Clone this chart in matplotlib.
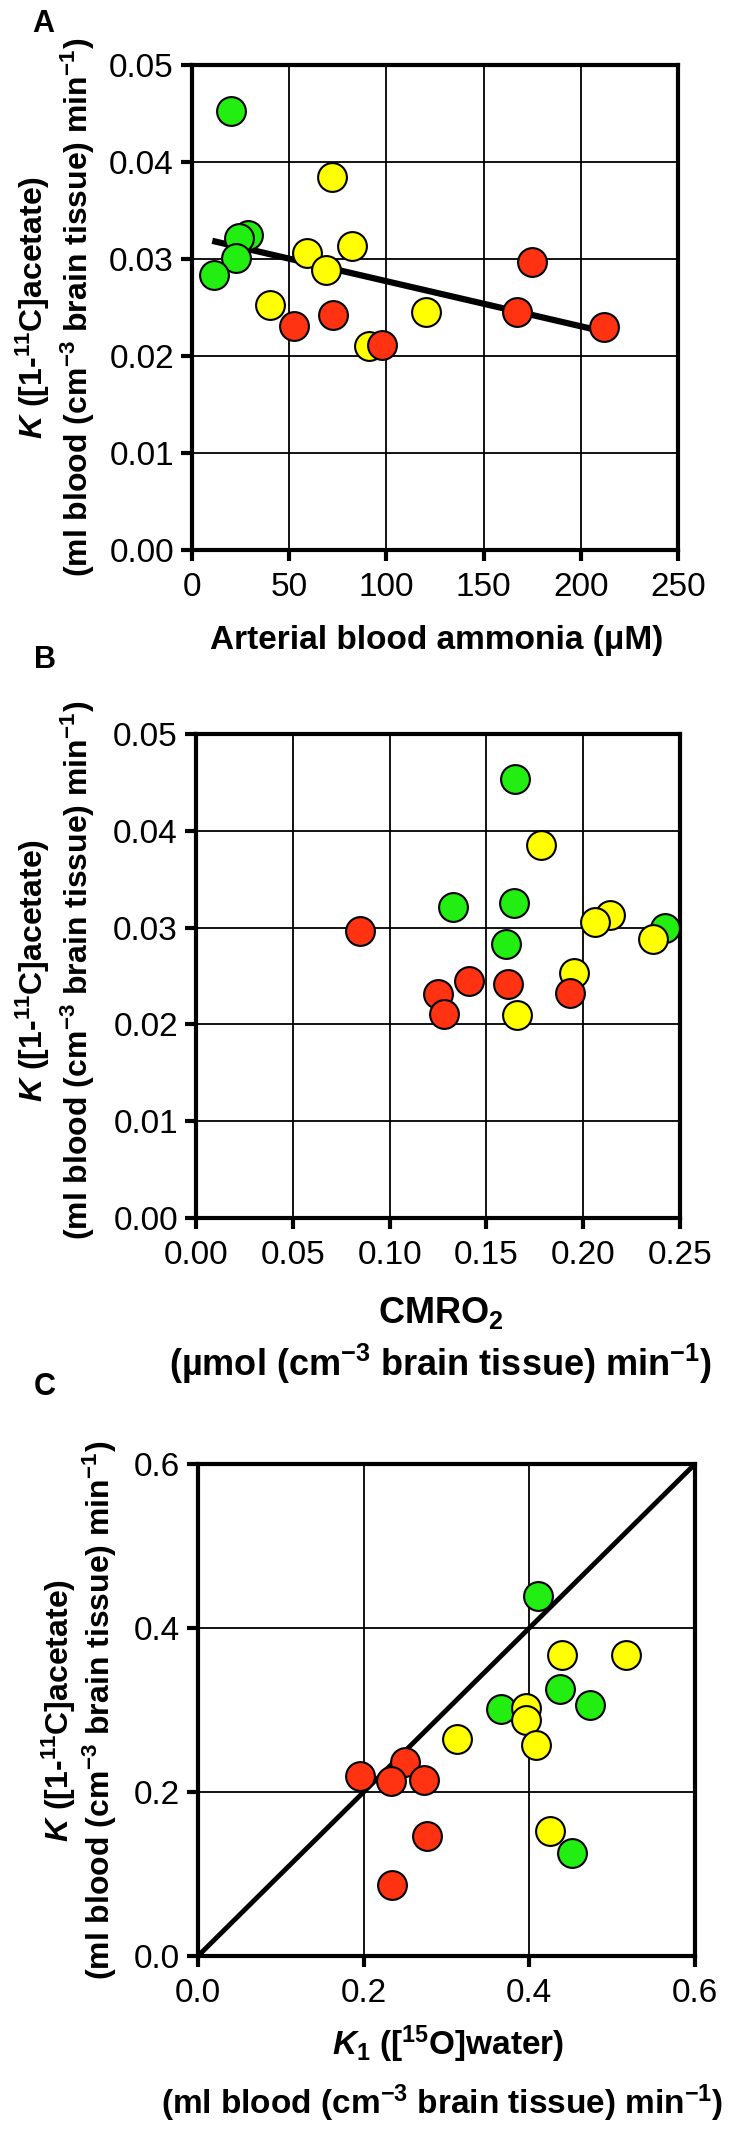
import numpy as np
import matplotlib
matplotlib.use('Agg')
import matplotlib.pyplot as plt

plt.rcParams['font.family'] = ['Liberation Sans', 'DejaVu Sans']
plt.rcParams['mathtext.fontset'] = 'custom'
plt.rcParams['mathtext.rm'] = 'Liberation Sans:bold'
plt.rcParams['mathtext.bf'] = 'Liberation Sans:bold'
plt.rcParams['mathtext.it'] = 'Liberation Sans:bold:italic'

GREEN = '#22ee11'
YELLOW = '#ffff00'
RED = '#ff3311'

# panel A: arterial ammonia vs K
a_green_x = [20, 28.8, 24, 22.4, 11.5]
a_green_y = [0.0453, 0.0325, 0.0322, 0.0301, 0.0284]
a_yellow_x = [71.9, 82.2, 58.9, 69, 40.1, 120.2, 90.9]
a_yellow_y = [0.0385, 0.0313, 0.0306, 0.0289, 0.0253, 0.0245, 0.0210]
a_red_x = [175, 72.4, 52.4, 97.8, 167.3, 212]
a_red_y = [0.0297, 0.0242, 0.0231, 0.0211, 0.0245, 0.0230]
a_fit_x = [12, 210]
a_fit_y = [0.0318, 0.0226]

# panel B: CMRO2 vs K
b_green_x = [0.165, 0.133, 0.164, 0.160, 0.2425]
b_green_y = [0.0453, 0.0321, 0.0325, 0.0283, 0.0300]
b_yellow_x = [0.178, 0.214, 0.206, 0.236, 0.195, 0.166]
b_yellow_y = [0.0385, 0.0313, 0.0306, 0.0288, 0.0253, 0.0210]
b_red_x = [0.0846, 0.141, 0.125, 0.128, 0.161, 0.193]
b_red_y = [0.0296, 0.0245, 0.0231, 0.0211, 0.0242, 0.0232]

# panel C: K1 water vs K acetate
c_green_x = [0.410, 0.366, 0.437, 0.473, 0.452]
c_green_y = [0.439, 0.301, 0.326, 0.306, 0.126]
c_yellow_x = [0.440, 0.517, 0.396, 0.396, 0.408, 0.313, 0.425]
c_yellow_y = [0.367, 0.367, 0.303, 0.288, 0.257, 0.265, 0.152]
c_red_x = [0.250, 0.195, 0.233, 0.273, 0.276, 0.234]
c_red_y = [0.236, 0.219, 0.214, 0.215, 0.146, 0.087]
c_line = [0.0, 0.6]

W, H = 729, 2130
fig = plt.figure(figsize=(W / 100, H / 100), dpi=100)


def box(l, t, r, b):
    return [l / W, 1 - b / H, (r - l) / W, (b - t) / H]


def style(ax, xlim, ylim, xticks, yticks, xfmt, yfmt):
    ax.set_xlim(xlim)
    ax.set_ylim(ylim)
    ax.set_xticks(xticks)
    ax.set_yticks(yticks)
    ax.set_xticklabels([xfmt.format(v) for v in xticks])
    ax.set_yticklabels([yfmt.format(v) for v in yticks])
    ax.grid(True, color='black', lw=1.3)
    ax.set_axisbelow(True)
    for s in ax.spines.values():
        s.set_linewidth(3)
    ax.tick_params(direction='out', length=8, width=3, labelsize=24)
    ax.tick_params(axis='y', pad=5)
    ax.tick_params(axis='x', pad=8)


def dots(ax, x, y, c):
    ax.scatter(x, y, s=430, c=c, edgecolors='black', linewidths=1.5, zorder=4, clip_on=False)


def ylabels(x1, x2, yc):
    fig.text(x1 / W, 1 - yc / H, r'$\mathit{K}$ ([1-$^{11}$C]acetate)', rotation=90,
             ha='center', va='center', fontsize=23, fontweight='bold')
    fig.text(x2 / W, 1 - yc / H, r'(ml blood (cm$^{-3}$ brain tissue) min$^{-1}$)', rotation=90,
             ha='center', va='center', fontsize=23, fontweight='bold')


# A
ax = fig.add_axes(box(192, 65, 678, 550))
style(ax, (0, 250), (0, 0.05), [0, 50, 100, 150, 200, 250],
      [0, 0.01, 0.02, 0.03, 0.04, 0.05], '{:g}', '{:.2f}')
ax.plot(a_fit_x, a_fit_y, color='black', lw=4.5, zorder=3)
dots(ax, a_green_x, a_green_y, GREEN)
dots(ax, a_yellow_x, a_yellow_y, YELLOW)
dots(ax, a_red_x, a_red_y, RED)
fig.text(437 / W, 1 - 641 / H, 'Arterial blood ammonia (μM)', ha='center', va='center',
         fontsize=24, fontweight='bold')
ylabels(33, 78, 307)
fig.text(43 / W, 1 - 24 / H, 'A', fontsize=22, fontweight='bold', ha='center', va='center')

# B
ax = fig.add_axes(box(196, 734, 680, 1218))
style(ax, (0, 0.25), (0, 0.05), [0, 0.05, 0.10, 0.15, 0.20, 0.25],
      [0, 0.01, 0.02, 0.03, 0.04, 0.05], '{:.2f}', '{:.2f}')
dots(ax, b_green_x, b_green_y, GREEN)
dots(ax, b_yellow_x, b_yellow_y, YELLOW)
dots(ax, b_red_x, b_red_y, RED)
fig.text(441 / W, 1 - 1313 / H, r'CMRO$_2$', ha='center', va='center', fontsize=26, fontweight='bold')
fig.text(441 / W, 1 - 1364 / H, r'(µmol (cm$^{-3}$ brain tissue) min$^{-1}$)',
         ha='center', va='center', fontsize=26, fontweight='bold')
ylabels(33, 78, 970)
fig.text(45 / W, 1 - 660 / H, 'B', fontsize=22, fontweight='bold', ha='center', va='center')

# C
ax = fig.add_axes(box(198, 1464, 695, 1956))
style(ax, (0, 0.6), (0, 0.6), [0, 0.2, 0.4, 0.6], [0, 0.2, 0.4, 0.6], '{:.1f}', '{:.1f}')
ax.plot(c_line, c_line, color='black', lw=3.5, zorder=3)
dots(ax, c_green_x, c_green_y, GREEN)
dots(ax, c_yellow_x, c_yellow_y, YELLOW)
dots(ax, c_red_x, c_red_y, RED)
fig.text(448 / W, 1 - 2044 / H, r'$\mathit{K}_1$ ([$^{15}$O]water)', ha='center', va='center',
         fontsize=24, fontweight='bold')
fig.text(442 / W, 1 - 2103 / H, r'(ml blood (cm$^{-3}$ brain tissue) min$^{-1}$)',
         ha='center', va='center', fontsize=24, fontweight='bold')
ylabels(59, 100, 1710)
fig.text(45 / W, 1 - 1387 / H, 'C', fontsize=22, fontweight='bold', ha='center', va='center')

fig.savefig('out.png', dpi=100)
